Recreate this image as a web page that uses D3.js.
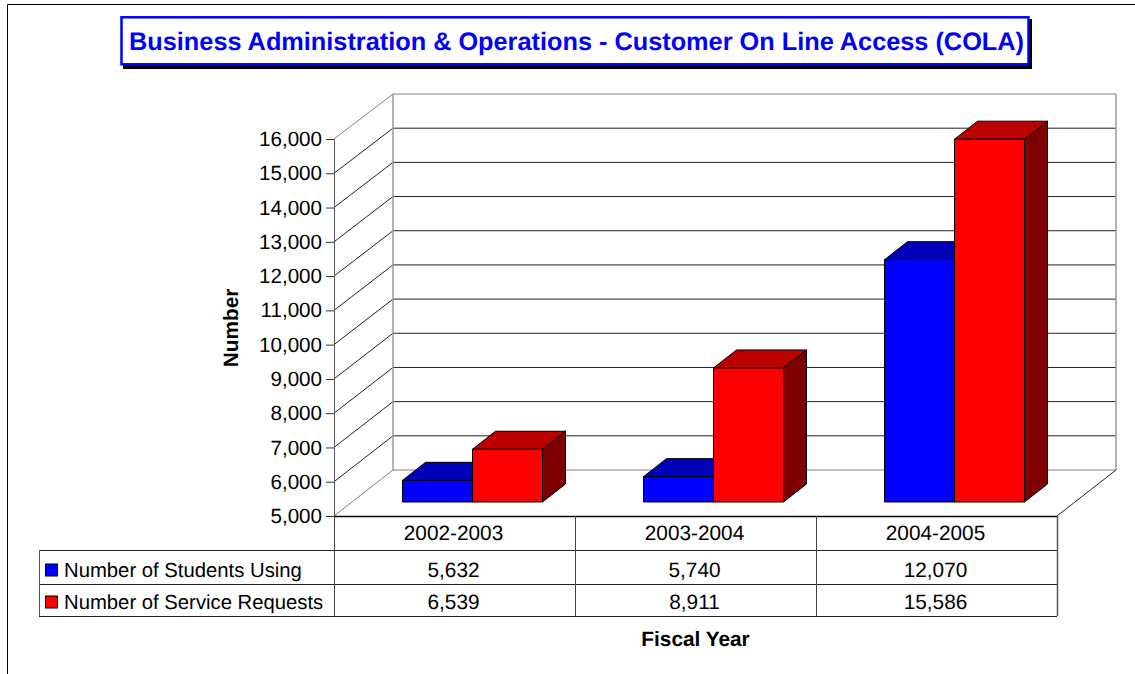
<!DOCTYPE html>
<html>
<head>
<meta charset="utf-8">
<script src="https://cdn.jsdelivr.net/npm/d3@7"></script>
<style>
  html, body { margin: 0; padding: 0; background: #fff; overflow: hidden; }
  text { font-family: "Liberation Sans", Arial, sans-serif; fill: #000; text-rendering: geometricPrecision; }
</style>
</head>
<body>
<div id="chart"></div>
<script>
const categories = ['2002-2003', '2003-2004', '2004-2005'];
const seriesNames = ['Number of Students Using', 'Number of Service Requests'];
const students = [5632, 5740, 12070];
const requests = [6539, 8911, 15586];
const yTicks = [5000, 6000, 7000, 8000, 9000, 10000, 11000, 12000, 13000, 14000, 15000, 16000];

const title = 'Business Administration & Operations - Customer On Line Access (COLA)';
const seriesValues = [students, requests];
const faceColors = [
  { front: '#0000ff', top: '#0000b8', side: '#00007f' },
  { front: '#ff0000', top: '#bb0000', side: '#7f0000' }
];

const width = 1135;
const height = 674;
const fmt = d3.format(',');

// floor depth of the 3d box, and where the bars sit inside it
const depthX = 59;
const barInsetX = 18;
const barInsetY = 14;
const barDepthX = 23;
const barDepthY = 18;

const svg = d3.select('#chart').append('svg')
  .attr('width', width)
  .attr('height', height)
  .style('display', 'block');

const x = d3.scaleBand().domain(categories).range([334, 1057]);
const y = d3.scaleLinear().domain([5000, 16000]).range([516, 139]);
const yBack = d3.scaleLinear().domain([5000, 16000]).range([470, 94]);
const xInner = d3.scaleBand().domain(d3.range(seriesNames.length)).range([0, 140]);

// page frame, only top and left are in the picture
svg.append('path')
  .attr('d', `M1135,4.5H7.5V674`)
  .attr('fill', 'none')
  .attr('stroke', '#000');

// title box
svg.append('rect').attr('x', 123).attr('y', 19).attr('width', 909).attr('height', 50).attr('fill', '#000');
svg.append('rect')
  .attr('x', 121.5).attr('y', 17.3).attr('width', 907).attr('height', 47)
  .attr('fill', '#fff').attr('stroke', '#0000ff').attr('stroke-width', 2.5);
svg.append('text')
  .attr('x', 576.5).attr('y', 50)
  .attr('text-anchor', 'middle')
  .attr('font-size', 25.3)
  .attr('font-weight', 'bold')
  .style('fill', '#0000ff')
  .text(title);

// gridlines on the side wall and the back wall
const grid = svg.append('g').attr('fill', 'none');
grid.selectAll('path')
  .data(yTicks)
  .enter()
  .append('path')
  .attr('d', (d) => `M${x.range()[0]},${y(d)}L${x.range()[0] + depthX},${yBack(d)}H${x.range()[1] + depthX}`)
  .attr('stroke', (d, i) => (i === 0 || i === yTicks.length - 1 ? '#808080' : '#222'))
  .attr('stroke-width', 1);

// back wall edges and floor
grid.append('path')
  .attr('d', `M${x.range()[0] + depthX},${yBack(5000)}V${yBack(16000)}M${x.range()[1] + depthX},${yBack(16000)}V${yBack(5000)}`)
  .attr('stroke', '#999')
  .attr('stroke-width', 1.5);
grid.append('path')
  .attr('d', `M${x.range()[1]},${y(5000)}L${x.range()[1] + depthX},${yBack(5000)}`)
  .attr('stroke', '#222');

// bars
seriesValues.forEach((values, s) => {
  const colors = faceColors[s];
  const bars = svg.append('g').attr('stroke', '#000').attr('stroke-width', 1).attr('stroke-linejoin', 'round');
  const left = (i) => x(categories[i]) + (x.step() - 140) / 2 + barInsetX + xInner(s);
  const top = (d) => y(d) - barInsetY;
  const base = y(5000) - barInsetY;
  const w = xInner.bandwidth();

  bars.selectAll('.top')
    .data(values)
    .enter()
    .append('path')
    .attr('class', 'top')
    .attr('fill', colors.top)
    .attr('d', (d, i) => `M${left(i)},${top(d)}l${barDepthX},${-barDepthY}h${w}l${-barDepthX},${barDepthY}Z`);

  bars.selectAll('.side')
    .data(values)
    .enter()
    .append('path')
    .attr('class', 'side')
    .attr('fill', colors.side)
    .attr('d', (d, i) => `M${left(i) + w},${top(d)}l${barDepthX},${-barDepthY}V${base - barDepthY}l${-barDepthX},${barDepthY}Z`);

  bars.selectAll('.front')
    .data(values)
    .enter()
    .append('rect')
    .attr('class', 'front')
    .attr('fill', colors.front)
    .attr('x', (d, i) => left(i))
    .attr('y', (d) => top(d))
    .attr('width', w)
    .attr('height', (d) => base - top(d));
});

// y axis
const yAxis = svg.append('g')
  .attr('transform', `translate(${x.range()[0]},0)`)
  .call(d3.axisLeft(y).tickValues(yTicks).tickFormat(fmt).tickSize(8).tickPadding(4));
yAxis.select('.domain').attr('stroke', '#555');
yAxis.selectAll('.tick line').attr('stroke', '#333');
yAxis.selectAll('text').attr('font-size', 20.6).attr('font-family', null).style('fill', '#000');

// data table under the chart
const rowY = [516, 550, 584, 616];
const tableLeft = 39;
const tableRight = x.range()[1];
const table = svg.append('g').attr('stroke', '#222').attr('fill', 'none');

table.append('path').attr('d', `M${x.range()[0]},${rowY[0] + 0.5}H${tableRight}`).attr('stroke', '#000').attr('stroke-width', 1.5);
rowY.slice(1).forEach((ry) => {
  table.append('path').attr('d', `M${tableLeft},${ry + 0.5}H${tableRight}`);
});
categories.forEach((c) => {
  table.append('path').attr('d', `M${x(c) + 0.5},${rowY[0]}V${rowY[3]}`).attr('stroke', '#444');
});
table.append('path').attr('d', `M${tableRight + 0.5},${rowY[0]}V${rowY[3]}`).attr('stroke', '#555').attr('stroke-width', 1.5);
table.append('path').attr('d', `M${tableLeft + 0.5},${rowY[1]}V${rowY[3]}`).attr('stroke', '#555');

svg.selectAll('.cat')
  .data(categories)
  .enter()
  .append('text')
  .attr('class', 'cat')
  .attr('x', (d) => x(d) + x.bandwidth() / 2 - 1)
  .attr('y', 540)
  .attr('text-anchor', 'middle')
  .attr('font-size', 20.8)
  .text((d) => d);

seriesNames.forEach((name, s) => {
  const ty = [577, 609][s];
  svg.append('rect')
    .attr('x', 45.5).attr('y', ty - 13).attr('width', 12).attr('height', 12)
    .attr('fill', faceColors[s].front).attr('stroke', '#000');
  svg.append('text').attr('x', 64).attr('y', ty).attr('font-size', 20.3).text(name);
  svg.selectAll(`.val${s}`)
    .data(seriesValues[s])
    .enter()
    .append('text')
    .attr('class', `val${s}`)
    .attr('x', (d, i) => x(categories[i]) + x.bandwidth() / 2 - 1)
    .attr('y', ty)
    .attr('text-anchor', 'middle')
    .attr('font-size', 20.8)
    .text(fmt);
});

// axis titles
svg.append('text')
  .attr('transform', 'translate(238,328) rotate(-90)')
  .attr('text-anchor', 'middle')
  .attr('font-size', 20.8)
  .attr('font-weight', 'bold')
  .text('Number');
svg.append('text')
  .attr('x', 695.5).attr('y', 646)
  .attr('text-anchor', 'middle')
  .attr('font-size', 20.8)
  .attr('font-weight', 'bold')
  .text('Fiscal Year');
</script>
</body>
</html>
